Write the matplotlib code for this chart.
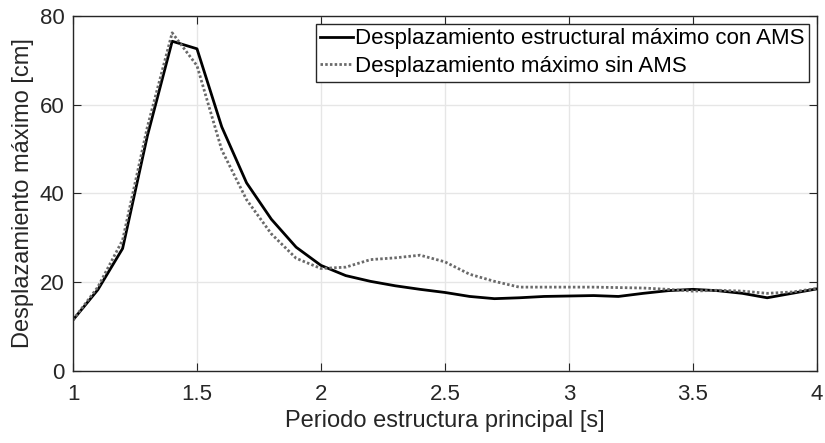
import matplotlib.pyplot as plt
import numpy as np

plt.rcParams['font.family'] = ['Liberation Sans', 'DejaVu Sans']

# Periodo estructura principal [s]
periodo = np.round(np.arange(1.0, 4.01, 0.1), 1)

# Desplazamiento estructural maximo con AMS [cm]
con_ams = [11.5, 18.3, 27.6, 53.0, 74.3, 72.6, 55.0, 42.4, 34.2, 27.9,
           23.8, 21.5, 20.2, 19.2, 18.4, 17.7, 16.8, 16.3, 16.5, 16.8,
           16.9, 17.0, 16.8, 17.5, 18.1, 18.4, 18.1, 17.5, 16.5, 17.5,
           18.5]

# Desplazamiento maximo sin AMS [cm]
sin_ams = [11.5, 18.9, 29.5, 55.0, 76.2, 68.8, 49.8, 38.6, 30.9, 25.4,
           23.1, 23.4, 25.1, 25.5, 26.1, 24.6, 21.8, 20.2, 18.9, 18.9,
           18.9, 18.9, 18.8, 18.7, 18.4, 18.0, 18.2, 18.0, 17.5, 17.8,
           18.6]

fig = plt.figure(figsize=(8.25, 4.43), dpi=100)
ax = fig.add_axes([0.0885, 0.1625, 0.9015, 0.8015])

ax.plot(periodo, con_ams, color='black', lw=2.0, ls='-',
        label='Desplazamiento estructural máximo con AMS')
ax.plot(periodo, sin_ams, color='#6a6a6a', lw=2.0, dashes=(0.9, 0.8),
        dash_capstyle='butt',
        label='Desplazamiento máximo sin AMS')

ax.set_xlim(1, 4)
ax.set_ylim(0, 80)
ax.set_xticks([1, 1.5, 2, 2.5, 3, 3.5, 4])
ax.set_xticklabels(['1', '1.5', '2', '2.5', '3', '3.5', '4'])
ax.set_yticks([0, 20, 40, 60, 80])
ax.grid(True, color='#e6e6e6', lw=1.0)
ax.set_axisbelow(True)
ax.tick_params(direction='in', top=True, right=True, labelsize=16,
               length=6, color='#262626', labelcolor='#262626')
ax.tick_params(axis='x', pad=9)
ax.tick_params(axis='y', pad=6)
for s in ax.spines.values():
    s.set_color('#262626')
    s.set_linewidth(1.0)

ax.set_xlabel('Periodo estructura principal [s]', fontsize=17,
              color='#262626', labelpad=4)
ax.set_ylabel('Desplazamiento máximo [cm]', fontsize=17,
              color='#262626', labelpad=4)

leg = ax.legend(loc='upper right', fontsize=16, handlelength=1.45,
                handletextpad=0.1, borderaxespad=0.36, borderpad=0.2,
                labelspacing=0.3, fancybox=False, framealpha=1)
leg.get_frame().set_edgecolor('#262626')
leg.get_frame().set_linewidth(1.0)

fig.savefig('out.png', dpi=100)
